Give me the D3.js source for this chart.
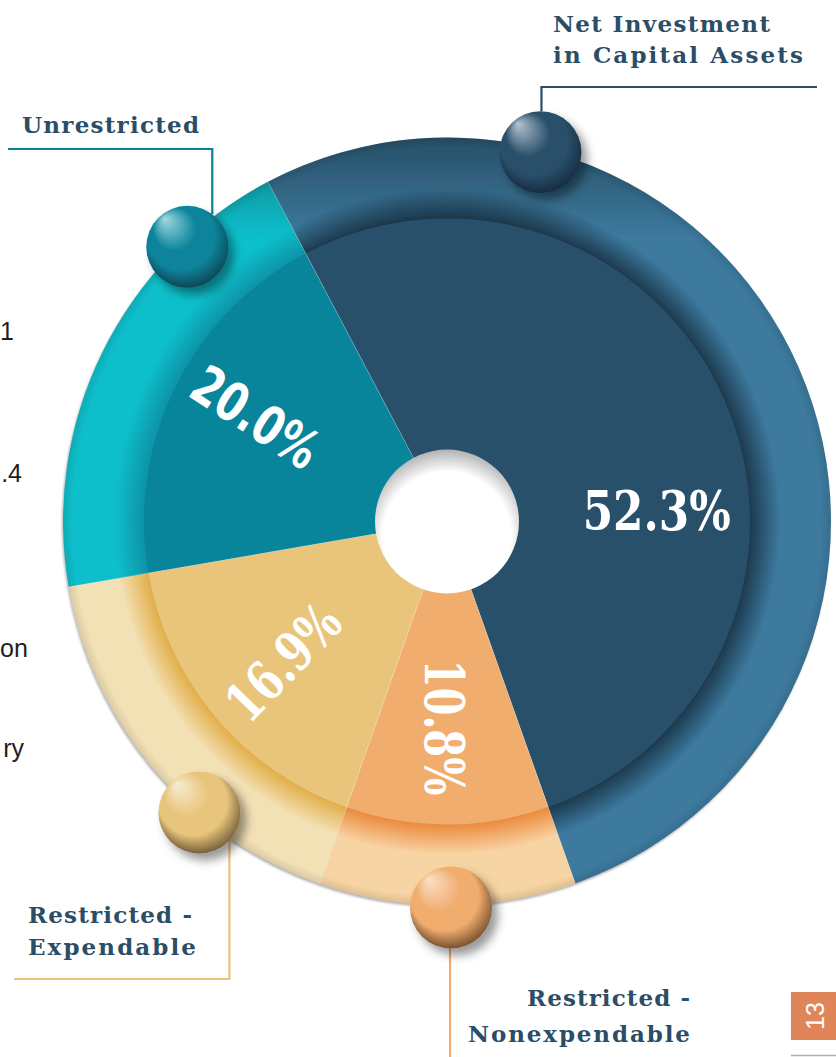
<!DOCTYPE html>
<html>
<head>
<meta charset="utf-8">
<script src="https://cdn.jsdelivr.net/npm/d3@7"></script>
<style>
  html, body { margin: 0; padding: 0; background: #fff; }
  svg { display: block; }
  .lbl { font-family: "DejaVu Serif", serif; font-weight: bold; fill: #2b4d66; }
  .pct { fill: #fff; font-weight: bold; }
  .frag { font-family: "Liberation Sans", Arial, sans-serif; font-size: 25px; fill: #231f20; }
</style>
</head>
<body>
<svg id="chart" width="836" height="1057"></svg>
<script>
// Net position donut: inner slices, outer ring, beads and leader labels.
var categories = ['Net Investment in Capital Assets', 'Restricted - Nonexpendable', 'Restricted - Expendable', 'Unrestricted'];
var shares = [52.3, 10.8, 16.9, 20.0];
var pctLabels = ['52.3%', '10.8%', '16.9%', '20.0%'];
var labelLines = [
    ['Net Investment', 'in Capital Assets'],
    ['Restricted -', 'Nonexpendable'],
    ['Restricted -', 'Expendable'],
    ['Unrestricted']
];
// cut-off text from the facing page
var fragments = ['1', '.4', 'on', 'ry'];
var pageNumber = '13';

// colours: slice, ring, ring inner shade, bead highlight, bead dark
var sliceCol = ['#29506a', '#f0ad6e', '#e8c57b', '#08849b'];
var ringCol  = ['#3c7a9e', '#f7d4a3', '#f3e1b6', '#0bbfcb'];
var shadeCol = ['#1d3a4f', '#ec8a3e', '#e2ae48', '#0a93a8'];
var hiCol    = ['#b3c4d1', '#fbe0c8', '#f7ecd2', '#a6d9e1'];
var darkCol  = ['#12253a', '#5e3e22', '#5f4a2a', '#0b3b47'];
var lineCol  = ['#2b4d66', '#f0ad6e', '#e8c57b', '#0f7f96'];

(function () {
    var svg = d3.select('#chart');
    var cx = 447, cy = 521.5;
    var R_OUT = 384, R_IN = 303, R_HOLE = 72, R_BEAD = 41;
    var deg = Math.PI / 180;
    var START = -27.8 * deg;

    // layout per category: bead angle/radius, leader line, label anchor
    var beads = [
        { a: 14.2, r: 381, lx: 1, ly: 87, ex: 817, tx: 553, ty: [32, 63], widths: [217, 250], anchor: 'start' },
        { a: 179.4, r: 386, lx: -1, ly: 1057, ex: null, tx: 690, ty: [1006, 1042], widths: [163, 222], anchor: 'end' },
        { a: 220.4, r: 382, lx: 30, ly: 979, ex: 14, tx: 28, ty: [923, 955], widths: [164, 168], anchor: 'start' },
        { a: -43.4, r: 378, lx: 25, ly: 149, ex: 8, tx: 22, ty: [133], widths: [177], anchor: 'start' }
    ];
    var pctPos = [
        { a: 86.9, r: 210, rot: 0, w: 148, font: '"DejaVu Serif", serif' },
        { a: 180.6, r: 206, rot: 90, w: 136, font: '"DejaVu Serif", serif' },
        { a: 229.4, r: 216, rot: -46, w: 138, font: '"DejaVu Serif", serif' },
        { a: -61.3, r: 218, rot: 33, w: 140, font: '"DejaVu Sans", sans-serif' }
    ];

    var defs = svg.append('defs');

    var rim = defs.append('filter').attr('id', 'rim').attr('x', '-10%').attr('y', '-10%').attr('width', '120%').attr('height', '120%');
    rim.append('feDropShadow').attr('dx', -1).attr('dy', 2).attr('stdDeviation', 1.2)
        .attr('flood-color', '#777').attr('flood-opacity', 0.55);

    var bsh = defs.append('filter').attr('id', 'beadShadow').attr('x', '-50%').attr('y', '-50%').attr('width', '200%').attr('height', '200%');
    bsh.append('feDropShadow').attr('dx', 6).attr('dy', 7).attr('stdDeviation', 5)
        .attr('flood-color', '#000').attr('flood-opacity', 0.4);

    categories.forEach(function (c, i) {
        var g = defs.append('radialGradient').attr('id', 'ring' + i)
            .attr('gradientUnits', 'userSpaceOnUse')
            .attr('cx', 0).attr('cy', 0).attr('r', R_OUT);
        g.append('stop').attr('offset', R_IN / R_OUT).attr('stop-color', shadeCol[i]);
        g.append('stop').attr('offset', (R_IN + 30) / R_OUT).attr('stop-color', ringCol[i]);
        g.append('stop').attr('offset', 0.975).attr('stop-color', ringCol[i]);
        g.append('stop').attr('offset', 1).attr('stop-color', d3.color(ringCol[i]).darker(0.3));

        var b = defs.append('radialGradient').attr('id', 'bead' + i)
            .attr('cx', 0.5).attr('cy', 0.45).attr('r', 0.6)
            .attr('fx', 0.22).attr('fy', 0.15);
        b.append('stop').attr('offset', 0).attr('stop-color', hiCol[i]);
        b.append('stop').attr('offset', 0.45).attr('stop-color', sliceCol[i]);
        b.append('stop').attr('offset', 0.7).attr('stop-color', sliceCol[i]);
        b.append('stop').attr('offset', 1).attr('stop-color', darkCol[i]);
    });

    var topDark = defs.append('linearGradient').attr('id', 'topDark')
        .attr('gradientUnits', 'userSpaceOnUse')
        .attr('x1', 0).attr('y1', -R_OUT).attr('x2', 0).attr('y2', R_OUT);
    topDark.append('stop').attr('offset', 0).attr('stop-color', '#000').attr('stop-opacity', 0.35);
    topDark.append('stop').attr('offset', 0.13).attr('stop-color', '#000').attr('stop-opacity', 0);

    var holeG = defs.append('radialGradient').attr('id', 'hole')
        .attr('cx', 0.5).attr('cy', 0.6).attr('r', 0.62);
    holeG.append('stop').attr('offset', 0.72).attr('stop-color', '#fff');
    holeG.append('stop').attr('offset', 1).attr('stop-color', '#a8a8a8');

    // facing page fragments
    var fragPos = [[0, 340, 'start'], [22, 482, 'end'], [0, 657, 'start'], [24, 757, 'end']];
    svg.append('g').selectAll('text').data(fragments).enter().append('text')
        .attr('class', 'frag')
        .attr('text-anchor', function (d, i) { return fragPos[i][2]; })
        .attr('x', function (d, i) { return fragPos[i][0]; })
        .attr('y', function (d, i) { return fragPos[i][1]; })
        .text(function (d) { return d; });

    var pie = d3.pie().sort(null).value(function (d) { return d; })
        .startAngle(START).endAngle(START + 2 * Math.PI);
    var arcs = pie(shares);

    var root = svg.append('g').attr('transform', 'translate(' + cx + ',' + cy + ')');

    var ringArc = d3.arc().innerRadius(R_IN - 1).outerRadius(R_OUT);
    var sliceArc = d3.arc().innerRadius(0).outerRadius(R_IN);

    var ring = root.append('g').attr('filter', 'url(#rim)');
    ring.selectAll('path.ring').data(arcs).enter().append('path')
        .attr('class', 'ring')
        .attr('d', ringArc)
        .attr('fill', function (d, i) { return 'url(#ring' + i + ')'; });
    ring.append('path')
        .attr('d', d3.arc().innerRadius(R_IN).outerRadius(R_OUT).startAngle(0).endAngle(2 * Math.PI)())
        .attr('fill', 'url(#topDark)');

    root.selectAll('path.slice').data(arcs).enter().append('path')
        .attr('class', 'slice')
        .attr('d', sliceArc)
        .attr('fill', function (d, i) { return sliceCol[i]; });

    // faint light seams between slices
    root.selectAll('line.seam').data(arcs).enter().append('line')
        .attr('x1', function (d) { return R_HOLE * Math.sin(d.startAngle); })
        .attr('y1', function (d) { return -R_HOLE * Math.cos(d.startAngle); })
        .attr('x2', function (d) { return R_OUT * Math.sin(d.startAngle); })
        .attr('y2', function (d) { return -R_OUT * Math.cos(d.startAngle); })
        .attr('stroke', '#fff').attr('stroke-opacity', 0.2).attr('stroke-width', 1);

    root.append('circle').attr('r', R_HOLE).attr('fill', 'url(#hole)');

    // percentage labels
    root.selectAll('text.pct').data(pctLabels).enter().append('text')
        .attr('class', 'pct')
        .attr('font-family', function (d, i) { return pctPos[i].font; })
        .attr('font-size', 54)
        .attr('text-anchor', 'middle')
        .attr('dy', '0.36em')
        .attr('textLength', function (d, i) { return pctPos[i].w; })
        .attr('lengthAdjust', 'spacingAndGlyphs')
        .attr('transform', function (d, i) {
            var p = pctPos[i];
            var x = p.r * Math.sin(p.a * deg), y = -p.r * Math.cos(p.a * deg);
            return 'translate(' + x + ',' + y + ') rotate(' + p.rot + ')';
        })
        .text(function (d) { return d; });

    // leader lines, beads, labels
    beads.forEach(function (b, i) {
        var bx = cx + b.r * Math.sin(b.a * deg);
        var by = cy - b.r * Math.cos(b.a * deg);
        var lx = bx + b.lx;
        var off = Math.sqrt(R_BEAD * R_BEAD - b.lx * b.lx);
        var y0 = b.ly < by ? by - off : by + off;
        var pts = [[lx, y0], [lx, b.ly]];
        if (b.ex !== null) pts.push([b.ex, b.ly]);
        svg.append('path')
            .attr('d', d3.line()(pts))
            .attr('fill', 'none')
            .attr('stroke', lineCol[i])
            .attr('stroke-width', 2.2);

        svg.append('circle')
            .attr('cx', bx).attr('cy', by).attr('r', R_BEAD)
            .attr('fill', 'url(#bead' + i + ')')
            .attr('filter', 'url(#beadShadow)');

        labelLines[i].forEach(function (t, j) {
            svg.append('text')
                .attr('class', 'lbl')
                .attr('font-size', 23)
                .attr('x', b.tx).attr('y', b.ty[j])
                .attr('text-anchor', b.anchor)
                .attr('textLength', b.widths[j])
                .attr('lengthAdjust', 'spacing')
                .text(t);
        });
    });

    // page number tab
    svg.append('rect').attr('x', 791).attr('y', 992).attr('width', 45).attr('height', 48).attr('fill', '#e0855a');
    svg.append('text')
        .attr('transform', 'translate(815,1016) rotate(-90)')
        .attr('text-anchor', 'middle').attr('dy', '0.36em')
        .attr('font-family', '"Liberation Sans", Arial, sans-serif')
        .attr('font-size', 25).attr('fill', '#fff')
        .text(pageNumber);
    svg.append('line').attr('x1', 791).attr('x2', 836).attr('y1', 1055.5).attr('y2', 1055.5)
        .attr('stroke', '#b0b0b0').attr('stroke-width', 1.5);
})();
</script>
</body>
</html>
